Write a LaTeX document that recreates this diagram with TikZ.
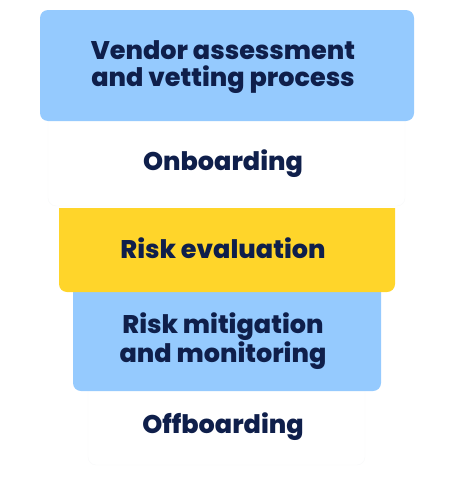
\documentclass[tikz,border=0pt]{standalone}
\usepackage{fontspec}
\setmainfont{Poppins}[BoldFont={* ExtraBold}]
\definecolor{skyb}{HTML}{95CAFE}
\definecolor{sun}{HTML}{FFD52A}
\definecolor{navy}{HTML}{0F1F4B}
\definecolor{faint}{HTML}{F8F9FA}
\tikzset{
  lbl/.style={text=navy, font=\fontsize{25.5}{26.5}\selectfont\bfseries, align=center, inner sep=0pt},
}
\begin{document}
\begin{tikzpicture}[x=1pt,y=-1pt]
\useasboundingbox (0,0) rectangle (466,479);
% white boxes
\draw[faint, fill=white, rounded corners=8pt] (48,110) rectangle (405,206);
\draw[faint, fill=white, rounded corners=8pt] (88,380) rectangle (365,465);
% blue top
\fill[skyb, rounded corners=8pt] (40,10) rectangle (414,121);
% blue 2
\fill[skyb] (73,280) -- (381,280) [rounded corners=8pt] -- (381,391) -- (73,391) [sharp corners] -- cycle;
% yellow
\fill[sun] (59,208) -- (395,208) [rounded corners=8pt] -- (395,292) -- (59,292) [sharp corners] -- cycle;
\node[lbl] (vendor) at (223,67) {Vendor assessment\\and vetting process};
\node[lbl] (onb) at (223,164) {Onboarding};
\node[lbl] (risk) at (223,248) {Risk evaluation};
\node[lbl] (mitig) at (223,341) {Risk mitigation\\and monitoring};
\node[lbl] (offb) at (223,427) {Offboarding};
\end{tikzpicture}
\end{document}
